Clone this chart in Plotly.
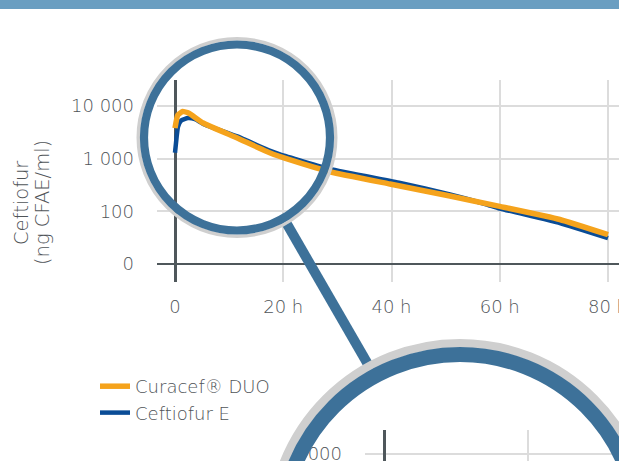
import math
import plotly.graph_objects as go

W, H = 619, 461

# ---------------- data ----------------
t_curacef = [0, 0.5, 1.4, 2.5, 5.2, 11.5, 17.6, 21.3, 28.6, 39.7, 50.8, 60, 71.1, 80]
c_curacef = [3800, 6700, 7850, 7350, 4750, 2470, 1280, 944, 565, 330, 195, 124, 70, 36]

t_ceftiofur = [0, 0.3, 0.55, 1.1, 2.4, 3.7, 5.2, 11.5, 17.6, 19.4, 28.6, 41.6, 50.8, 57.3, 60, 71.1, 80]
c_ceftiofur = [1300, 2570, 4000, 5250, 5900, 5600, 4560, 2640, 1400, 1200, 635, 345, 210, 138, 113, 60, 31]

series_names = ["Curacef® DUO", "Ceftiofur E"]
x_tickvals = [0, 20, 40, 60, 80]
x_ticktext = ["0", "20 h", "40 h", "60 h", "80 h"]
y_tickvals = [10, 100, 1000, 10000]
y_ticktext = ["0", "100", "1 000", "10 000"]
y_title_lines = ["Ceftiofur", "(ng CFAE/ml)"]

# ---------------- style ----------------
ORANGE = "#F5A31C"
BLUE = "#0A4C96"
RING = "#3D7199"
SHADOW = "#CFCFCF"
BAR = "#6A9EC1"
TEXT = "#4F5458"
AXIS = "#4F575B"
GRID = "#DCDCDC"
FONT = "DejaVu Sans"
WEIGHT = 200


def px(x):
    return x / W


def py(y):
    return 1 - y / H


fig = go.Figure()
fig.add_trace(go.Scatter(x=t_ceftiofur, y=c_ceftiofur, mode="lines", name=series_names[1],
                         line=dict(color=BLUE, width=4.5, shape="spline", smoothing=0.4),
                         legendrank=2))
fig.add_trace(go.Scatter(x=t_curacef, y=c_curacef, mode="lines", name=series_names[0],
                         line=dict(color=ORANGE, width=5.5, shape="spline", smoothing=0.4),
                         legendrank=1))

# main plot area (pixel geometry)
L, R, T, B = 157, 619, 80, 282
X0PX, XSCALE = 175, 5.4125        # x=0 at 175 px, px per hour
Y10PX, DEC = 264, 52.67           # y=10 at 264 px, px per decade

xr = [(L - X0PX) / XSCALE, (R - X0PX) / XSCALE]
yr = [1 - (B - Y10PX) / DEC, 1 + (Y10PX - T) / DEC]

# inset (magnified) axes
IL, IT = 365, 430
IX0, ISCALE = 384, 7.2
IY4, IDEC = 454, 70
ixr = [(IL - IX0) / ISCALE, (W - IX0) / ISCALE]
iyr = [4 - (H - IY4) / IDEC, 4 + (IY4 - IT) / IDEC]

tickfont = dict(family=FONT, size=18, color=TEXT, weight=WEIGHT)

fig.update_layout(
    width=W, height=H,
    margin=dict(l=0, r=0, t=0, b=0, autoexpand=False),
    paper_bgcolor="white", plot_bgcolor="white",
    font=dict(family=FONT, color=TEXT),
    xaxis=dict(domain=[px(L), 1], range=xr, anchor="free", position=py(Y10PX),
               showline=True, linecolor=AXIS, linewidth=2,
               showgrid=True, gridcolor=GRID, gridwidth=1.5,
               zeroline=True, zerolinecolor=AXIS, zerolinewidth=2.5,
               tickvals=x_tickvals, ticktext=x_ticktext, ticks="", automargin=False,
               tickfont=tickfont, ticklabelstandoff=26, ticklabeloverflow="allow"),
    yaxis=dict(domain=[py(B), py(T)], type="log", range=yr, anchor="x",
               showline=False, showgrid=True, gridcolor=GRID, gridwidth=1.5,
               tickvals=y_tickvals, ticktext=y_ticktext, ticks="", automargin=False,
               tickfont=tickfont, ticklabelstandoff=22),
    xaxis2=dict(domain=[px(IL), 1], range=ixr, anchor="y2",
                showline=False, showgrid=True, gridcolor=GRID, gridwidth=1.5,
                zeroline=True, zerolinecolor=AXIS, zerolinewidth=2.5, automargin=False,
                tickvals=[0, 20], showticklabels=False, ticks=""),
    yaxis2=dict(domain=[0, py(IT)], type="log", range=iyr, anchor="x2",
                showline=False, showgrid=True, gridcolor=GRID, gridwidth=1.5,
                tickvals=[10000], ticktext=["10 000"], ticks="", automargin=False,
                tickfont=tickfont, ticklabelstandoff=22, ticklabeloverflow="allow"),
    legend=dict(x=px(95), y=py(368), xanchor="left", yanchor="top",
                font=dict(family=FONT, size=18, color=TEXT, weight=WEIGHT),
                bgcolor="rgba(0,0,0,0)", itemwidth=30, tracegroupgap=0),
    showlegend=True,
)

# invisible trace so that the magnified inset subplot exists
fig.add_trace(go.Scatter(x=[ixr[0]], y=[10 ** iyr[1]], xaxis="x2", yaxis="y2",
                         mode="markers", marker=dict(opacity=0), showlegend=False,
                         hoverinfo="skip"))

# y-axis title (two lines, tight spacing)
for txt, xc in zip(y_title_lines, [22, 43]):
    fig.add_annotation(text=txt, xref="paper", yref="paper", x=px(xc), y=py(203),
                       xanchor="center", yanchor="middle", textangle=-90, showarrow=False,
                       font=dict(family=FONT, size=19.5, color=TEXT, weight=WEIGHT))

shapes = []
# top bar
shapes.append(dict(type="rect", xref="paper", yref="paper", x0=0, x1=1, y0=py(9), y1=1,
                   fillcolor=BAR, line=dict(width=0)))


def circle(cx, cy, r, width, color):
    return dict(type="circle", xref="paper", yref="paper",
                x0=px(cx - r), x1=px(cx + r), y0=py(cy + r), y1=py(cy - r),
                line=dict(color=color, width=width), fillcolor="rgba(0,0,0,0)")


# magnifier lens
SCX, SCY = 237, 137.5
ang = math.radians(60)
hx0, hy0 = SCX + 95 * math.cos(ang), SCY + 95 * math.sin(ang)
hx1, hy1 = SCX + 272 * math.cos(ang), SCY + 272 * math.sin(ang)
shapes.append(dict(type="line", xref="paper", yref="paper", x0=px(hx0), y0=py(hy0),
                   x1=px(hx1), y1=py(hy1), line=dict(color=RING, width=10)))
shapes.append(circle(SCX, SCY, 98.7, 3.6, SHADOW))
shapes.append(circle(SCX, SCY, 93, 8.2, RING))

# big magnified circle
BCX, BCY, BR = 460, 533, 194
# white mask outside the big circle over the inset label region
pts = []
for i in range(41):
    yy = 410 + (H + 2 - 410) * i / 40
    xx = BCX - math.sqrt((BR - 1) ** 2 - (BCY - yy) ** 2)
    pts.append((xx, yy))
path = "M {},{} ".format(px(250), py(410))
for xx, yy in pts:
    path += "L {},{} ".format(px(xx), py(yy))
path += "L {},{} Z".format(px(250), py(H + 2))
shapes.append(dict(type="path", xref="paper", yref="paper", path=path,
                   fillcolor="white", line=dict(width=0)))
shapes.append(circle(BCX, BCY, BR - 4.2, 8.4, SHADOW))
shapes.append(circle(BCX, BCY, BR - 8 - 7.5, 15, RING))

fig.update_layout(shapes=shapes)

post = (
    "document.documentElement.style.margin='0';"
    "document.documentElement.style.padding='0';"
    "document.documentElement.style.overflow='hidden';"
    "document.body.style.margin='0';"
    "document.body.style.padding='0';"
    "document.body.style.overflow='hidden';"
)
fig.write_html("out.html", config={"displayModeBar": False}, post_script=post)
